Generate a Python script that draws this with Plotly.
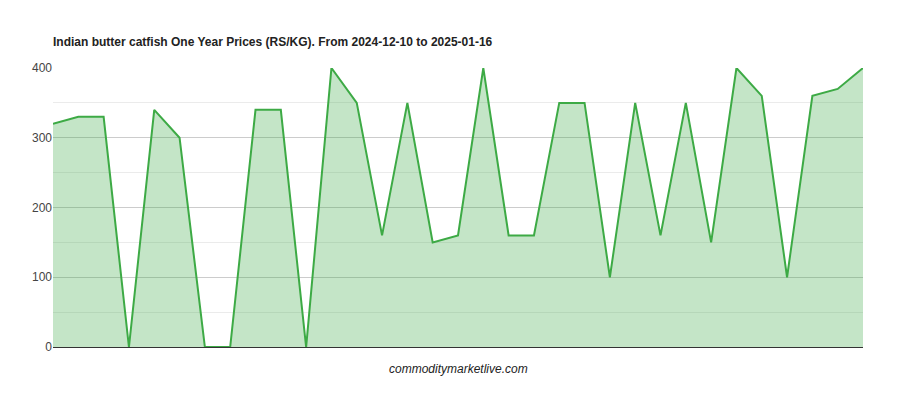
import plotly.graph_objects as go

prices = [320, 330, 330, 0, 340, 300, 0, 0, 340, 340, 0, 400, 350, 160, 350, 150, 160,
          400, 160, 160, 350, 350, 100, 350, 160, 350, 150, 400, 360, 100, 360, 370, 400]
idx = list(range(len(prices)))
y_ticks = [0, 100, 200, 300, 400]

fig = go.Figure()
fig.add_trace(go.Scatter(
    x=idx, y=prices, mode="lines", fill="tozeroy",
    line=dict(color="#3daa45", width=2),
    fillcolor="rgba(61,170,69,0.3)",
    hoverinfo="y",
))

fig.update_layout(
    width=900, height=400,
    margin=dict(l=45, r=45, t=60, b=61),
    plot_bgcolor="white", paper_bgcolor="white",
    font=dict(family="Arial, Liberation Sans", size=12, color="#444"),
    title=dict(text="<b>Indian butter catfish One Year Prices (RS/KG). From 2024-12-10 to 2025-01-16</b>",
               x=0.05, xanchor="left", y=0.915, yanchor="middle",
               font=dict(size=12, color="#222")),
    showlegend=False,
    xaxis=dict(range=[0, len(prices) - 1], showticklabels=False, showgrid=False,
               zeroline=False, showline=False),
    yaxis=dict(range=[0, 400], tickvals=y_ticks, gridcolor="#cccccc",
               minor=dict(dtick=50, showgrid=True, gridcolor="#ebebeb"),
               zeroline=True, zerolinecolor="#333", zerolinewidth=1,
               tickfont=dict(color="#444", size=12), ticks=""),
    annotations=[dict(text="<i>commoditymarketlive.com</i>", x=0.5, y=-0.11,
                      xref="paper", yref="paper", showarrow=False,
                      font=dict(size=12, color="#222"))],
)

fig.write_html("out.html")
